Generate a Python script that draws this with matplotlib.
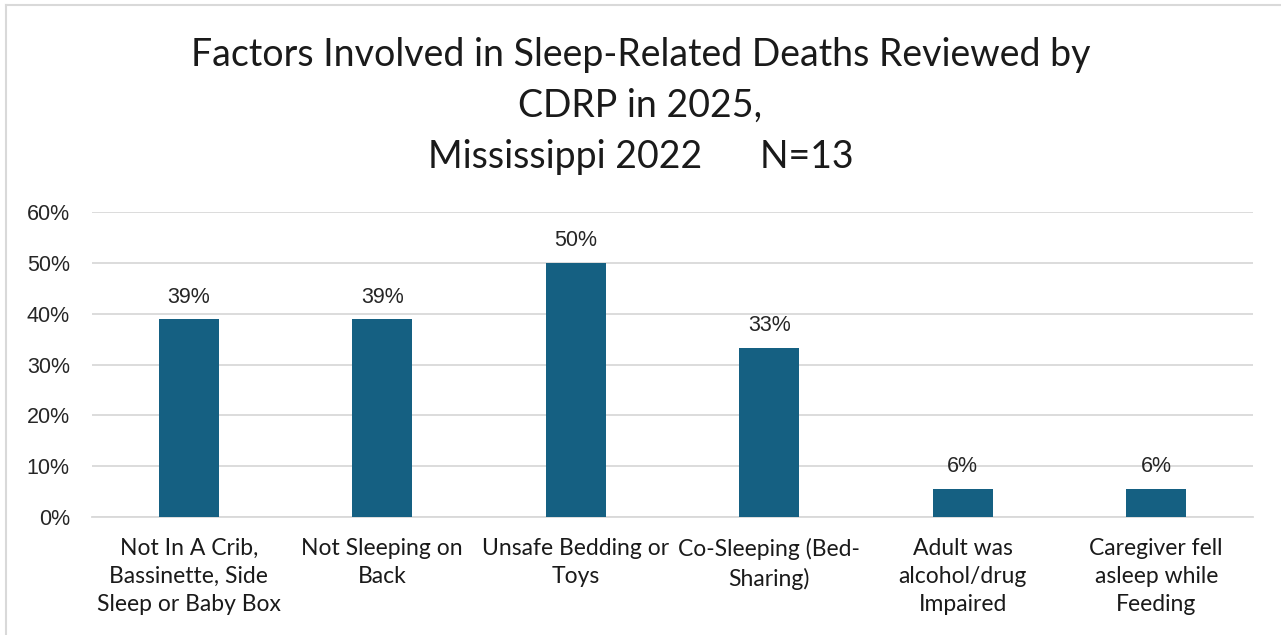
import matplotlib
matplotlib.use('Agg')
import matplotlib.pyplot as plt
from matplotlib.lines import Line2D
from matplotlib.ticker import PercentFormatter

# Chart data
categories = ['Not In A Crib,\nBassinette, Side\nSleep or Baby Box',
              'Not Sleeping on\nBack',
              'Unsafe Bedding or\nToys',
              'Co-Sleeping (Bed-\nSharing)',
              'Adult was\nalcohol/drug\nImpaired',
              'Caregiver fell\nasleep while\nFeeding']
values = [38.9, 38.9, 50.0, 33.3, 5.6, 5.6]
value_labels = ['39%', '39%', '50%', '33%', '6%', '6%']
y_ticks = [0, 10, 20, 30, 40, 50, 60]

bar_color = '#156082'
grid_color = '#d9d9d9'

fig = plt.figure(figsize=(12.81, 6.35), dpi=100, facecolor='white')
ax = fig.add_axes([0.0718, 0.1858, 0.9063, 0.4803])

x = list(range(len(categories)))
ax.bar(x, values, width=0.31, color=bar_color, zorder=3)

for xi, v, lab in zip(x, values, value_labels):
	ax.text(xi, v + 2.3, lab, ha='center', va='bottom', fontsize=15.5,
	        family='Liberation Sans', color='#262626')

ax.set_xlim(-0.5, len(categories) - 0.5)
ax.set_ylim(0, 60)
ax.set_yticks(y_ticks)
ax.yaxis.set_major_formatter(PercentFormatter(decimals=0))
ax.yaxis.grid(True, color=grid_color, linewidth=1.3, zorder=0)
ax.set_axisbelow(True)

for side in ['top', 'right', 'left']:
	ax.spines[side].set_visible(False)
ax.spines['bottom'].set_color(grid_color)
ax.spines['bottom'].set_linewidth(1.3)

ax.tick_params(axis='y', length=0, pad=16, labelsize=15.5)
ax.tick_params(axis='x', length=0, pad=15)
for t in ax.get_yticklabels():
	t.set_family('Liberation Sans')
	t.set_color('#262626')

ax.set_xticks(x)
ax.set_xticklabels(categories, fontsize=16.5, family='Lato', color='#1a1a1a',
                   linespacing=1.42, va='top')

# Title
fig.text(0.5, 0.942, 'Factors Involved in Sleep-Related Deaths Reviewed by\nCDRP in 2025,\nMississippi 2022      N=13',
         ha='center', va='top', fontsize=27, family='Lato', color='#1a1a1a',
         linespacing=1.52)

# Chart frame
fig.add_artist(Line2D([6 / 1281, 1], [1 - 5 / 635, 1 - 5 / 635], transform=fig.transFigure,
                      color=grid_color, linewidth=1.5))
fig.add_artist(Line2D([6 / 1281, 6 / 1281], [0, 1 - 5 / 635], transform=fig.transFigure,
                      color=grid_color, linewidth=1.5))

plt.savefig('out.png', dpi=100, facecolor='white')
